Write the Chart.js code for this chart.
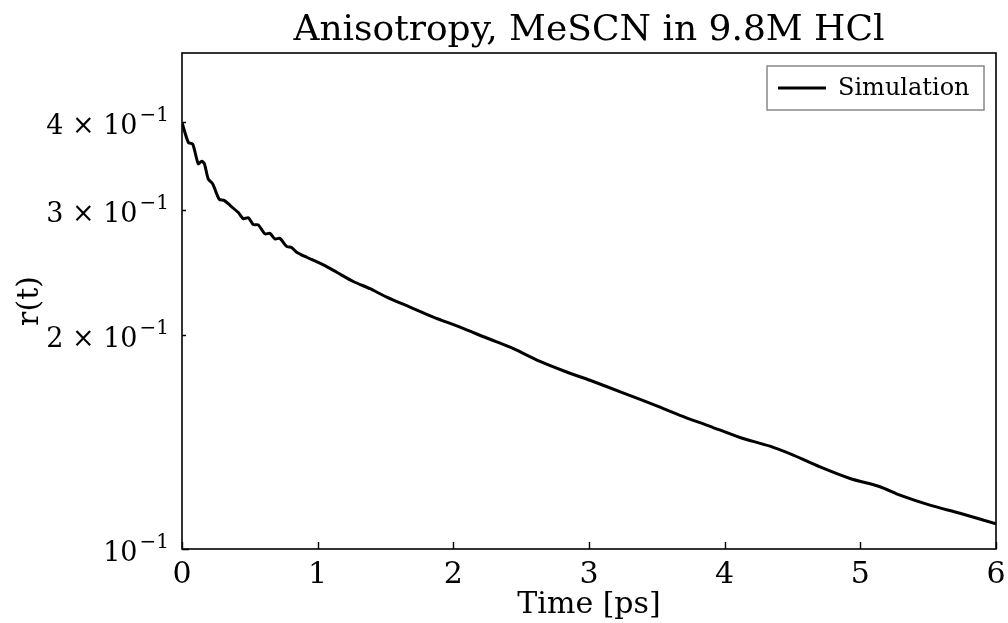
<!DOCTYPE html>
<html>
<head>
<meta charset="utf-8">
<script src="https://cdn.jsdelivr.net/npm/chart.js@4/dist/chart.umd.min.js"></script>
<style>
  html, body { margin: 0; padding: 0; background: #fff; }
  #wrap { width: 1008px; height: 623px; }
</style>
</head>
<body>
<div id="wrap"><canvas id="chartAniso" width="1008" height="623"></canvas></div>
<script>
// ---- Data ----
const timePs = [0, 0.047, 0.079, 0.12, 0.145, 0.165, 0.194, 0.226, 0.275, 0.31,
  0.354, 0.415, 0.452, 0.489, 0.526, 0.562, 0.611, 0.648, 0.685, 0.722,
  0.771, 0.808, 0.845, 0.919, 1.042, 1.14, 1.263, 1.386, 1.509, 1.681,
  1.853, 2.049, 2.246, 2.443, 2.639, 2.835, 3.007, 3.25, 3.523, 3.67,
  3.892, 4.113, 4.334, 4.506, 4.703, 4.924, 5.145, 5.292, 5.513, 5.734, 6.0];
const anisotropy = [0.399, 0.374, 0.372, 0.349, 0.352, 0.349, 0.332, 0.327, 0.311, 0.310,
  0.305, 0.298, 0.292, 0.293, 0.2865, 0.2863, 0.278, 0.2785, 0.2735, 0.274,
  0.267, 0.266, 0.262, 0.2577, 0.2514, 0.2455, 0.2382, 0.2327, 0.2264, 0.2192,
  0.2122, 0.2054, 0.1983, 0.1916, 0.1838, 0.1776, 0.1729, 0.166, 0.1585, 0.1543,
  0.1489, 0.1436, 0.1396, 0.1356, 0.1305, 0.1257, 0.1224, 0.1191, 0.1153, 0.1123, 0.1085];

const xTicks      = [0, 1, 2, 3, 4, 5, 6];
const yTicks      = [0.1, 0.2, 0.3, 0.4];
// mantissa part and exponent of each y label ("4 × 10" + superscript "−1")
const yTickBase   = ['10', '2 \u00D7 10', '3 \u00D7 10', '4 \u00D7 10'];
const yTickExp    = ['\u22121', '\u22121', '\u22121', '\u22121'];
const yMajor      = [0.1];

const SERIF = "'DejaVu Serif', serif";

// ---- Frame, inward ticks, y labels with superscripts, boxed legend ----
const framePlugin = {
  id: 'frame',
  afterDatasetsDraw(chart) {
    const { ctx, chartArea: a, scales } = chart;
    ctx.save();
    ctx.strokeStyle = '#000';
    ctx.lineWidth = 1.6;
    ctx.strokeRect(a.left, a.top, a.right - a.left, a.bottom - a.top);

    ctx.lineWidth = 1.4;
    ctx.beginPath();
    xTicks.forEach(v => {
      const px = Math.round(scales.x.getPixelForValue(v)) + 0.5;
      ctx.moveTo(px, a.bottom);
      ctx.lineTo(px, a.bottom - 7);
    });
    yTicks.forEach(v => {
      const py = Math.round(scales.y.getPixelForValue(v)) + 0.5;
      const len = yMajor.includes(v) ? 7 : 4;
      ctx.moveTo(a.left, py);
      ctx.lineTo(a.left + len, py);
    });
    ctx.stroke();

    // y tick labels, mathtext style
    ctx.fillStyle = '#000';
    ctx.textBaseline = 'alphabetic';
    ctx.textAlign = 'left';
    const right = a.left - 13;
    yTicks.forEach((v, i) => {
      const py = scales.y.getPixelForValue(v);
      ctx.font = `20px ${SERIF}`;
      const wExp = ctx.measureText(yTickExp[i]).width;
      ctx.fillText(yTickExp[i], right - wExp, py - 1);
      ctx.font = `27px ${SERIF}`;
      const wBase = ctx.measureText(yTickBase[i]).width;
      ctx.fillText(yTickBase[i], right - wExp - 2 - wBase, py + 12);
    });

    // legend
    const ds = chart.data.datasets[0];
    const bx = a.right - 229, by = a.top + 13, bw = 217, bh = 44;
    ctx.fillStyle = 'rgba(255,255,255,0.8)';
    ctx.fillRect(bx, by, bw, bh);
    ctx.strokeStyle = '#888';
    ctx.lineWidth = 1.5;
    ctx.strokeRect(bx, by, bw, bh);
    ctx.strokeStyle = ds.borderColor;
    ctx.lineWidth = 3;
    ctx.beginPath();
    ctx.moveTo(bx + 11, by + bh / 2);
    ctx.lineTo(bx + 59, by + bh / 2);
    ctx.stroke();
    ctx.fillStyle = '#000';
    ctx.font = `24px ${SERIF}`;
    ctx.textBaseline = 'middle';
    ctx.fillText(ds.label, bx + 71, by + bh / 2 + 1);
    ctx.restore();
  }
};

new Chart(document.getElementById('chartAniso'), {
  type: 'line',
  data: {
    datasets: [{
      label: 'Simulation',
      data: timePs.map((t, i) => ({ x: t, y: anisotropy[i] })),
      borderColor: '#000',
      borderWidth: 3,
      pointRadius: 0,
      tension: 0.25,
      fill: false,
    }]
  },
  options: {
    responsive: false,
    animation: false,
    layout: { padding: { left: 0, right: 12, top: 0, bottom: 0 } },
    plugins: {
      legend: { display: false },
      tooltip: { enabled: false },
      title: {
        display: true,
        fullSize: false,
        text: 'Anisotropy, MeSCN in 9.8M HCl',
        color: '#000',
        font: { family: SERIF, size: 36, weight: 'normal', lineHeight: 1.2 },
        padding: { top: 9.5, bottom: 0.3 }
      }
    },
    scales: {
      x: {
        type: 'linear',
        min: 0, max: 6,
        afterBuildTicks: s => { s.ticks = xTicks.map(v => ({ value: v })); },
        afterFit: s => { s.height = 74; s.paddingLeft = 0; s.paddingRight = 0; },
        grid: { display: false, drawTicks: false },
        border: { display: false },
        ticks: { color: '#000', padding: 8, maxRotation: 0, font: { family: SERIF, size: 30 } },
        title: {
          display: true, text: 'Time [ps]', color: '#000',
          font: { family: SERIF, size: 30, lineHeight: 1.2 },
          padding: { top: 0, bottom: 0 }
        }
      },
      y: {
        type: 'logarithmic',
        min: 0.1, max: 0.5,
        afterBuildTicks: s => { s.ticks = yTicks.map(v => ({ value: v })); },
        afterFit: s => { s.width = 182; s.paddingTop = 0; s.paddingBottom = 0; },
        grid: { display: false, drawTicks: false },
        border: { display: false },
        ticks: { display: false },
        title: {
          display: true, text: 'r(t)', color: '#000',
          font: { family: SERIF, size: 30, lineHeight: 1.2 },
          padding: { top: 12, bottom: 0 }
        }
      }
    }
  },
  plugins: [framePlugin]
});
</script>
</body>
</html>
